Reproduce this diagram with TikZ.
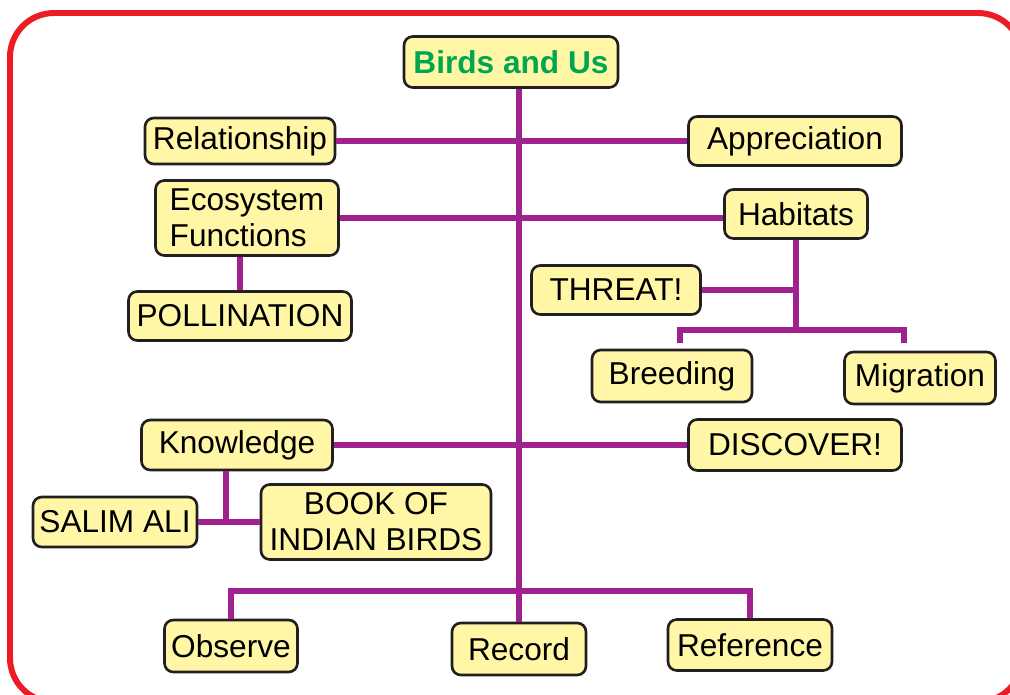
\documentclass[tikz,border=0pt]{standalone}
\usepackage{fontspec}
\setmainfont{Liberation Sans}
\usetikzlibrary{positioning,calc}
\definecolor{rojo}{HTML}{ED1C24}
\definecolor{amarillo}{HTML}{FFF7A6}
\definecolor{morado}{HTML}{A0228E}
\definecolor{verde}{HTML}{00A651}
\definecolor{borde}{HTML}{231F20}

\begin{document}
\begin{tikzpicture}[x=0.02cm,y=-0.02cm,
      caja/.style={rounded corners=5pt,draw=borde,fill=amarillo,line width=1.5pt,
                   minimum height=0.98cm,inner sep=1pt,align=center,
                   font=\fontsize{18}{20.5}\selectfont},
      rama/.style={morado,line width=3.3pt},
      marco/.style={rojo,line width=3.4pt,rounded corners=25pt}]
    \useasboundingbox (0,0) rectangle (1010,694);
    \clip (0,0) rectangle (1010,694);
    \draw[marco] (10,13) rectangle (1022,702);
    % nodos
    \node[caja,minimum width=4.28cm,minimum height=1.02cm,font=\fontsize{18}{20.5}\selectfont\bfseries,text=verde] (birds) at (511,62) {Birds and Us};
    \node[caja,minimum width=3.8cm,minimum height=0.92cm] (relationship) at (240,141) {Relationship};
    \node[caja,minimum width=4.26cm] (appreciation) at (795,141) {Appreciation};
    \node[caja,minimum width=3.66cm,minimum height=1.5cm,align=left] (ecosystem) at (247,218) {Ecosystem\\Functions};
    \node[caja,minimum width=2.86cm] (habitats) at (796,214) {Habitats};
    \node[caja,minimum width=4.46cm] (pollination) at (240,316) {POLLINATION};
    \node[caja,minimum width=3.38cm] (threat) at (616,290) {THREAT!};
    \node[caja,minimum width=3.2cm,minimum height=1.04cm] (breeding) at (672,376) {Breeding};
    \node[caja,minimum width=3.02cm,minimum height=1.04cm] (migration) at (920,378) {Migration};
    \node[caja,minimum width=3.82cm,minimum height=1.0cm] (knowledge) at (237,445) {Knowledge};
    \node[caja,minimum width=4.26cm,minimum height=1.02cm] (discover) at (795,445) {DISCOVER!};
    \node[caja,minimum width=3.28cm,minimum height=1.0cm] (salim) at (115,522) {SALIM ALI};
    \node[caja,minimum width=4.6cm,minimum height=1.5cm] (book) at (376,522) {BOOK OF\\INDIAN BIRDS};
    \node[caja,minimum width=2.66cm,minimum height=1.04cm] (observe) at (231,646) {Observe};
    \node[caja,minimum width=2.68cm,minimum height=1.04cm] (record) at (519,649) {Record};
    \node[caja,minimum width=3.28cm,minimum height=1.02cm] (reference) at (750,645) {Reference};
    % puntos de union
    \coordinate (hab) at (796,330);
    \coordinate (bre) at (680,343);
    \coordinate (mig) at (904,343);
    \coordinate (kn) at (226,522);
    \coordinate (baja) at (519,591);
    % ramas
    \draw[rama] (birds.south -| record.north) -- (record.north);
    \draw[rama] (relationship.east) -- (appreciation.west);
    \draw[rama] (ecosystem.east) -- (ecosystem.east -| habitats.west);
    \draw[rama] (pollination.north) -- (pollination.north |- ecosystem.south);
    \draw[rama] (habitats.south) -- (hab);
    \draw[rama] (threat.east) -- (threat.east -| hab);
    \draw[rama] (bre) |- (hab) -| (mig);
    \draw[rama] (knowledge.east) -- (discover.west);
    \draw[rama] (kn |- knowledge.south) -- (kn);
    \draw[rama] (salim.east) -- (book.west);
    \draw[rama] (observe.north) |- (baja) -| (reference.north);
  \end{tikzpicture}
\end{document}
